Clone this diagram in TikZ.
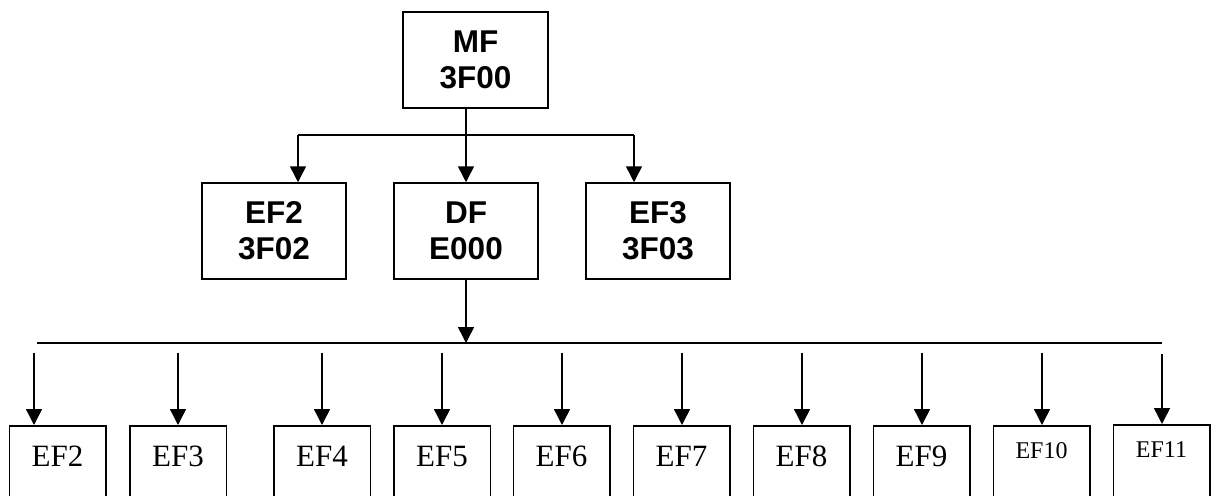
\documentclass[tikz,border=0pt]{standalone}
\usepackage{fontspec}
\setmainfont{Liberation Serif}
\newfontfamily\arialf{Liberation Sans}
\usetikzlibrary{arrows.meta}
\begin{document}
\begin{tikzpicture}[x=1pt,y=-1pt,
  topbox/.style={draw, line width=1.5pt, inner sep=0pt, minimum width=144pt,
    minimum height=96pt, align=center,
    font=\arialf\bfseries\fontsize{31.5}{36}\selectfont},
  leafbox/.style={draw, line width=1.5pt, anchor=north, inner sep=0pt,
    minimum width=96.5pt, text height=41pt, text depth=49pt,
    font=\fontsize{31}{36}\selectfont},
  smallleaf/.style={leafbox, text height=33pt, text depth=57pt,
    font=\fontsize{24}{28}\selectfont},
  arr/.style={line width=1.5pt, -{Triangle[width=16pt,length=16pt]}},
  ln/.style={line width=1.5pt}]
\useasboundingbox (0,0) rectangle (1212,495);
\clip (0,0) rectangle (1212,495);
\fill[white] (0,0) rectangle (1212,495);

% top level
\node[topbox, minimum width=145pt] (mf) at (475.5,60) {MF\\3F00};
\node[topbox] (ef2m) at (274,231) {EF2\\3F02};
\node[topbox] (df) at (466,231) {DF\\E000};
\node[topbox] (ef3m) at (658,231) {EF3\\3F03};

\coordinate (jl) at (298,135);
\coordinate (jr) at (634,135);
\draw[arr] (df.north |- mf.south) -- (df.north);
\draw[ln] (jl) -- (jr);
\draw[arr] (jl) -- (jl |- ef2m.north);
\draw[arr] (jr) -- (jr |- ef3m.north);

% bus
\coordinate (busl) at (37,343);
\coordinate (busr) at (1162,343);
\draw[ln] (busl) -- (busr);
\draw[arr] (df.south) -- (df.south |- busl);

% leaves
\foreach \n/\cx/\ax in {2/57.5/34, 3/178/178, 4/322/322, 5/442/442,
  6/561.5/562, 7/681.5/682, 8/801.5/802, 9/921.5/922}{
  \node[leafbox] (l\n) at (\cx,425) {EF\n};
  \coordinate (s\n) at (\ax,353);
  \draw[arr] (s\n) -- (s\n |- l\n.north);
}
\node[smallleaf] (l10) at (1041.5,425) {EF10};
\coordinate (s10) at (1042,353);
\draw[arr] (s10) -- (s10 |- l10.north);
\node[smallleaf] (l11) at (1161.5,424) {EF11};
\coordinate (s11) at (1162,354);
\draw[arr] (s11) -- (s11 |- l11.north);
\end{tikzpicture}
\end{document}
